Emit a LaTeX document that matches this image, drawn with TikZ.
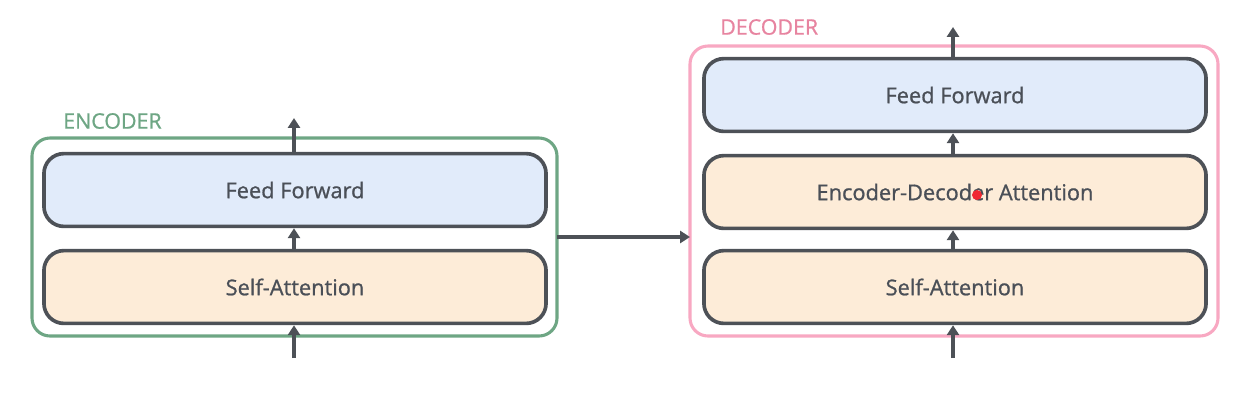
\documentclass[tikz,border=0pt]{standalone}
\usepackage{fontspec}
\setmainfont{Open Sans}
\newfontfamily\semifont{Open Sans}[FakeBold=0.9]
\usetikzlibrary{calc}
\usetikzlibrary{arrows.meta}
\usetikzlibrary{positioning}
\definecolor{slate}{RGB}{77, 81, 87}
\definecolor{textgray}{RGB}{74, 79, 87}
\definecolor{paleblue}{RGB}{225, 235, 250}
\definecolor{paleorange}{RGB}{253, 236, 216}
\definecolor{sage}{RGB}{110, 166, 132}
\definecolor{blush}{RGB}{248, 168, 194}
\definecolor{rosetext}{RGB}{231, 132, 160}
\definecolor{pointer}{RGB}{240, 40, 50}
\tikzset{
    layerbox/.style={draw=slate, line width=2.6pt, rounded corners=0.5cm,
        minimum width=12.55cm, minimum height=1.82cm, inner sep=0pt,
        text=textgray, font=\semifont\fontsize{15.5}{18}\selectfont},
    stackbox/.style={line width=2.2pt, rounded corners=0.45cm},
    flow/.style={draw=slate, line width=2.2pt, -{Triangle[length=7pt, width=8.5pt]}},
    stacklabel/.style={anchor=west, inner sep=0pt, font=\semifont\fontsize{15.2}{18}\selectfont}
}
\begin{document}
\begin{tikzpicture}[x=0.025cm, y=-0.025cm]
    \useasboundingbox (0,0) rectangle (1238,403);
    % encoder stack
    \draw[stackbox, sage] (32,138) rectangle (557,336);
    \node[stacklabel, text=sage] at (63,121) {ENCODER};
    \node[layerbox, fill=paleorange] (encself) at (295,287) {Self-Attention};
    \node[layerbox, fill=paleblue]   (encff)   at (295,190) {Feed Forward};
    \coordinate (encin)  at (294,358);
    \coordinate (encout) at (294,118);
    \coordinate (encright) at (557,237);
    % decoder stack
    \draw[stackbox, blush] (690,46) rectangle (1218,336);
    \node[stacklabel, text=rosetext] at (720,27) {DECODER};
    \node[layerbox, fill=paleorange] (decself) at (955,287) {Self-Attention};
    \node[layerbox, fill=paleorange] (decatt)  at (955,192) {Encoder-Decoder Attention};
    \node[layerbox, fill=paleblue]   (decff)   at (955,95)  {Feed Forward};
    \coordinate (decin)  at (953,358);
    \coordinate (decout) at (953,27);
    \coordinate (decleft) at (690,237);
    % connectors
    \draw[flow] (encin) -- (encin |- encself.south);
    \draw[flow] (encin |- encself.north) -- (encin |- encff.south);
    \draw[flow] (encin |- encff.north) -- (encout);
    \draw[flow] (encright) -- (decleft);
    \draw[flow] (decin) -- (decin |- decself.south);
    \draw[flow] (decin |- decself.north) -- (decin |- decatt.south);
    \draw[flow] (decin |- decatt.north) -- (decin |- decff.south);
    \draw[flow] (decin |- decff.north) -- (decout);
    % pointer dot
    \fill[pointer] (977,195) circle (5);
\end{tikzpicture}
\end{document}
